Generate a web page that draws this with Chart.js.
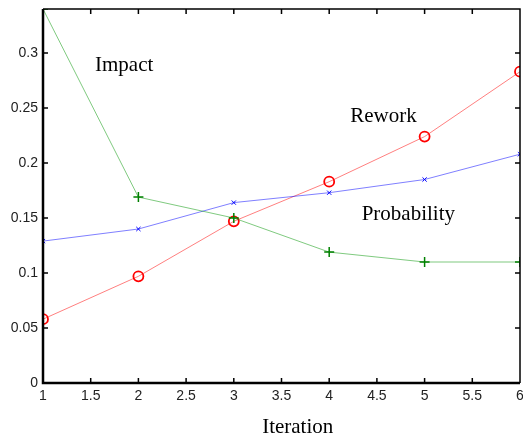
<!DOCTYPE html>
<html>
<head>
<meta charset="utf-8">
<script src="https://cdn.jsdelivr.net/npm/chart.js@4"></script>
<style>
  body { margin: 0; background: #fff; }
  canvas { display: block; }
</style>
</head>
<body>
<canvas id="graphique" width="523" height="438"></canvas>
<script>
// données
const iterations = [1, 2, 3, 4, 5, 6];
const rework = [0.058, 0.097, 0.147, 0.183, 0.224, 0.283];
const probability = [0.129, 0.140, 0.164, 0.173, 0.185, 0.208];
const impact = [0.340, 0.169, 0.150, 0.119, 0.110, 0.110];

const xTicks = [1, 1.5, 2, 2.5, 3, 3.5, 4, 4.5, 5, 5.5, 6];
const yTicks = [0, 0.05, 0.1, 0.15, 0.2, 0.25, 0.3];

// textes posés dans le graphique (en unités des axes)
const noteTexts = ['Impact', 'Rework', 'Probability', 'Iteration'];
const noteX = [1.545, 4.22, 4.34, 3.67];
const noteY = [0.289, 0.2425, 0.1535, -0.04];

const toPoints = ys => ys.map((y, i) => ({ x: iterations[i], y }));

// cadre façon matlab : axes épais à gauche et en bas, petits traits vers l'intérieur
const cadre = {
  id: 'cadre',
  afterDraw(chart) {
    const { ctx, chartArea: a, scales: { x, y } } = chart;
    const t = 5;
    ctx.save();
    ctx.strokeStyle = '#000';
    ctx.lineWidth = 1.5;
    ctx.beginPath();
    ctx.moveTo(a.left, a.top);
    ctx.lineTo(a.right, a.top);
    ctx.lineTo(a.right, a.bottom);
    for (const v of xTicks) {
      const px = x.getPixelForValue(v);
      ctx.moveTo(px, a.top); ctx.lineTo(px, a.top + t);
      ctx.moveTo(px, a.bottom); ctx.lineTo(px, a.bottom - t);
    }
    for (const v of yTicks) {
      const py = y.getPixelForValue(v);
      ctx.moveTo(a.left, py); ctx.lineTo(a.left + t, py);
      ctx.moveTo(a.right, py); ctx.lineTo(a.right - t, py);
    }
    ctx.stroke();
    ctx.lineWidth = 2.5;
    ctx.beginPath();
    ctx.moveTo(a.left, a.top);
    ctx.lineTo(a.left, a.bottom);
    ctx.lineTo(a.right, a.bottom);
    ctx.stroke();

    ctx.fillStyle = '#000';
    ctx.font = '21px "Liberation Serif"';
    ctx.textBaseline = 'middle';
    noteTexts.forEach((txt, i) => {
      ctx.textAlign = txt === 'Iteration' ? 'center' : 'left';
      ctx.fillText(txt, x.getPixelForValue(noteX[i]), y.getPixelForValue(noteY[i]));
    });
    ctx.restore();
  }
};

const fmt = v => String(+Number(v).toFixed(2));
const tickFont = { family: '"Liberation Sans", Arial, sans-serif', size: 14 };

new Chart(document.getElementById('graphique'), {
  type: 'line',
  data: {
    datasets: [
      {
        label: 'Impact',
        data: toPoints(impact),
        borderColor: 'rgba(0,150,0,0.5)',
        borderWidth: 1,
        pointStyle: 'cross',
        pointRadius: 5,
        pointBorderWidth: 1.5,
        pointBorderColor: '#008000',
        clip: 0,
      },
      {
        label: 'Probability',
        data: toPoints(probability),
        borderColor: 'rgba(0,0,255,0.5)',
        borderWidth: 1,
        pointStyle: 'crossRot',
        pointRadius: 3,
        pointBorderWidth: 1,
        pointBorderColor: '#0000ff',
        clip: 0,
      },
      {
        label: 'Rework',
        data: toPoints(rework),
        borderColor: 'rgba(255,0,0,0.5)',
        borderWidth: 1,
        pointStyle: 'circle',
        pointRadius: 5,
        pointBorderWidth: 1.8,
        pointBorderColor: '#ff0000',
        pointBackgroundColor: 'rgba(0,0,0,0)',
        clip: 0,
      }
    ]
  },
  options: {
    responsive: false,
    animation: false,
    devicePixelRatio: 1,
    layout: { autoPadding: false, padding: { top: 9, right: 3, left: 0, bottom: 0 } },
    plugins: { legend: { display: false }, tooltip: { enabled: false } },
    scales: {
      x: {
        type: 'linear',
        min: 1,
        max: 6,
        grid: { display: false, drawTicks: false },
        border: { display: false },
        afterBuildTicks: s => { s.ticks = xTicks.map(value => ({ value })); },
        afterFit: s => { s.height = 55; s.paddingLeft = 0; s.paddingRight = 0; },
        ticks: {
          padding: 5,
          color: '#222',
          font: tickFont,
          maxRotation: 0,
          autoSkip: false,
          callback: fmt
        }
      },
      y: {
        min: 0,
        max: 0.34,
        grid: { display: false, drawTicks: false },
        border: { display: false },
        afterBuildTicks: s => { s.ticks = yTicks.map(value => ({ value })); },
        afterFit: s => { s.width = 43; s.paddingTop = 0; s.paddingBottom = 0; },
        ticks: {
          padding: 5,
          color: '#222',
          font: tickFont,
          callback: fmt
        }
      }
    }
  },
  plugins: [cadre]
});
</script>
</body>
</html>
